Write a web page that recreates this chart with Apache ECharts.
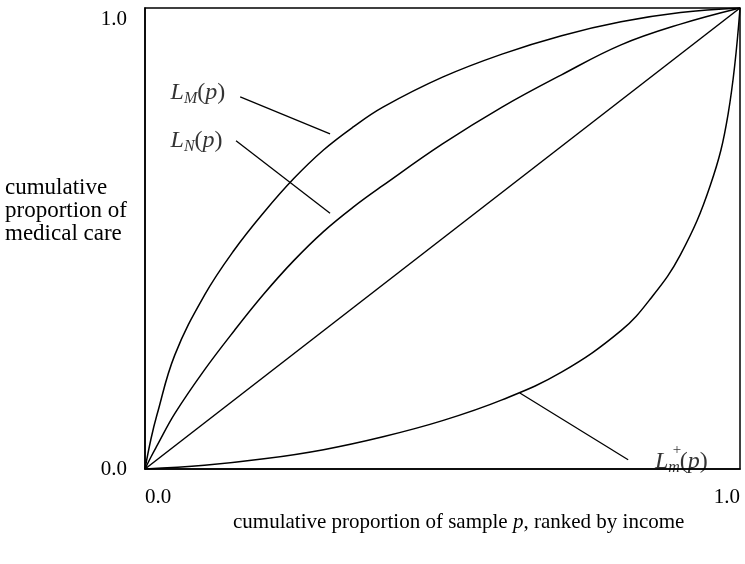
<!DOCTYPE html>
<html><head><meta charset="utf-8">
<script src="https://cdn.jsdelivr.net/npm/echarts@6/dist/echarts.min.js"></script>
<style>html,body{margin:0;padding:0;background:#fff}#c{width:745px;height:564px}</style>
</head><body><div id="c"></div>
<script>
// Data
var pGrid   = [0, 0.01, 0.02, 0.05, 0.10, 0.15, 0.20, 0.25, 0.30, 0.35, 0.40, 0.50, 0.60, 0.70, 0.80, 0.90, 1.00];
var LM      = [0, 0.065, 0.117, 0.247, 0.377, 0.475, 0.557, 0.630, 0.692, 0.742, 0.785, 0.850, 0.900, 0.940, 0.970, 0.990, 1.00];
var LN      = [0, 0.026, 0.050, 0.120, 0.215, 0.300, 0.380, 0.452, 0.515, 0.568, 0.615, 0.705, 0.785, 0.855, 0.920, 0.965, 1.00];
var pPlus   = [0, 0.10, 0.20, 0.30, 0.40, 0.50, 0.60, 0.70, 0.80, 0.85, 0.90, 0.95, 0.98, 1.00];
var LmPlus  = [0, 0.008, 0.022, 0.042, 0.070, 0.105, 0.150, 0.210, 0.300, 0.370, 0.465, 0.615, 0.770, 1.00];
var diagP   = [0, 1];
var diagL   = [0, 1];
// annotation leader lines (data coords)
var leadM   = [[0.160, 0.807], [0.311, 0.727]];
var leadN   = [[0.153, 0.712], [0.311, 0.555]];
var leadPl  = [[0.630, 0.165], [0.812, 0.020]];
var xTicks  = ['0.0', '1.0'];
var yTicks  = ['0.0', '1.0'];

function zip(a, b) { return a.map(function (v, i) { return [v, b[i]]; }); }
var serif = 'Liberation Serif';
var lineStyle = { color: '#000', width: 1.5 };
function curve(data) {
  return { type: 'line', data: data, symbol: 'none', smooth: 0.4,
           lineStyle: lineStyle, silent: true, z: 3 };
}
function lead(data) {
  return { type: 'line', data: data, symbol: 'none', lineStyle: { color: '#000', width: 1.3 }, silent: true };
}
var richBase = {
  i: { fontFamily: serif, fontStyle: 'italic', fontSize: 24, color: '#000' },
  n: { fontFamily: serif, fontSize: 24, color: '#000' },
  sub: { fontFamily: serif, fontStyle: 'italic', fontSize: 16, color: '#000', padding: [12, 0, 0, 0] },
  sup: { fontFamily: serif, fontSize: 15, color: '#000' }
};
function labelPt(pos, text) {
  return { value: pos, label: { show: true, position: 'right', distance: 0, formatter: text, rich: richBase } };
}

var chart = echarts.init(document.getElementById('c'), null, { renderer: 'canvas' });
chart.setOption({
  animation: false,
  backgroundColor: '#fff',
  title: [{
    text: 'cumulative\nproportion of\nmedical care', left: 5, top: 176, padding: 0,
    textStyle: { fontFamily: serif, fontWeight: 'normal', fontSize: 23, color: '#000', lineHeight: 23 }
  }, {
    text: 'cumulative proportion of sample {i|p}, ranked by income', left: 233, top: 512, padding: 0,
    textStyle: { fontFamily: serif, fontWeight: 'normal', fontSize: 21, color: '#000',
      rich: { i: { fontFamily: serif, fontStyle: 'italic', fontSize: 21, color: '#000' } } }
  }],
  grid: { left: 145, right: 5, top: 8, bottom: 95, outerBoundsMode: 'none', containLabel: false,
          show: true, borderColor: '#000', borderWidth: 1.5 },
  xAxis: {
    type: 'value', min: 0, max: 1, interval: 1,
    axisLine: { show: true, lineStyle: { color: '#000', width: 1.5 } },
    axisTick: { show: false }, splitLine: { show: false },
    axisLabel: { margin: 18, fontFamily: serif, fontSize: 21, color: '#000',
      alignMinLabel: 'left', alignMaxLabel: 'right',
      formatter: function (v) { return v === 0 ? xTicks[0] : xTicks[1]; } }
  },
  yAxis: {
    type: 'value', min: 0, max: 1, interval: 1,
    axisLine: { show: true, lineStyle: { color: '#000', width: 1.5 } },
    axisTick: { show: false }, splitLine: { show: false },
    axisLabel: { margin: 18, fontFamily: serif, fontSize: 21, color: '#000',
      formatter: function (v) { return v === 0 ? yTicks[0] : '{t|' + yTicks[1] + '}'; },
      rich: { t: { fontFamily: serif, fontSize: 21, color: '#000', padding: [22, 0, 0, 0] } } }
  },
  series: [
    curve(zip(pGrid, LM)),
    curve(zip(pGrid, LN)),
    curve(zip(pPlus, LmPlus)),
    { type: 'line', data: zip(diagP, diagL), symbol: 'none', lineStyle: lineStyle, silent: true },
    lead(leadM), lead(leadN), lead(leadPl),
    { type: 'scatter', symbolSize: 0, silent: true, data: [
        labelPt([0.043, 0.816], '{i|L}{sub|M}{n|(}{i|p}{n|)}'),
        labelPt([0.043, 0.713], '{i|L}{sub|N}{n|(}{i|p}{n|)}'),
        labelPt([0.857, 0.015], '{i|L}{sub|m}{n|(}{i|p}{n|)}'),
        labelPt([0.887, 0.040], '{sup|+}')
    ] }
  ]
});
</script></body></html>
